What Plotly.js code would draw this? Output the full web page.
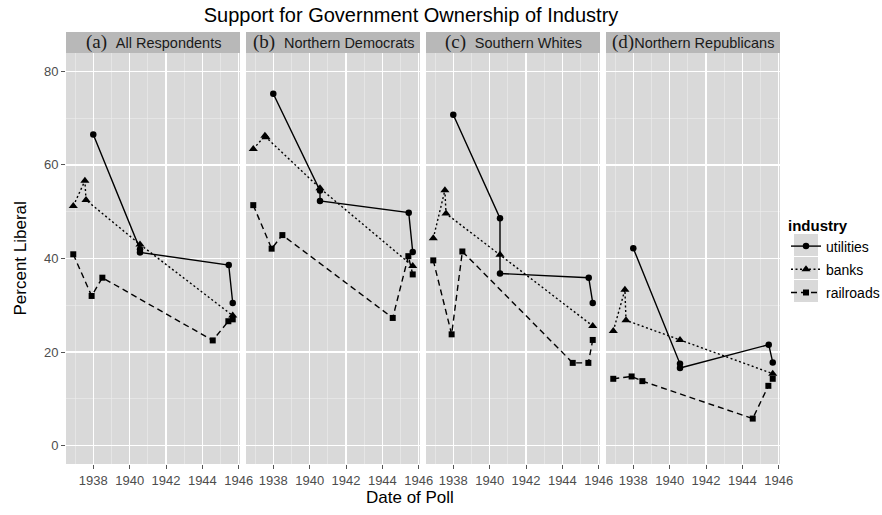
<!DOCTYPE html>
<html>
<head>
<meta charset="utf-8">
<script src="https://cdn.plot.ly/plotly-3.0.1.min.js"></script>
<style>html,body{margin:0;padding:0;background:#fff}</style>
</head>
<body>
<div id="chart" style="width:882px;height:515px"></div>
<script>
// Facet panels (respondent groups)
const panelTags = ['(a)', '(b)', '(c)', '(d)'];
const panelNames = ['All Respondents', 'Northern Democrats', 'Southern Whites', 'Northern Republicans'];

// Poll dates (decimal years) for each question
const utilityDates = [1938.0, 1940.57, 1940.57, 1945.45, 1945.67];
const bankDates = [1936.9, 1937.54, 1937.6, 1940.57, 1945.67];
const railroadDates = [1936.9, 1937.91, 1938.5, 1944.57, 1945.43, 1945.67];

// Percent liberal, one row per panel (a, b, c, d)
const utilities = [
  [66.5, 42.0, 41.3, 38.6, 30.5],
  [75.2, 54.5, 52.3, 49.8, 41.4],
  [70.7, 48.6, 36.8, 35.9, 30.5],
  [42.2, 17.5, 16.6, 21.6, 17.8]
];
const banks = [
  [51.2, 56.6, 52.5, 43.0, 27.8],
  [63.4, 66.2, 65.9, 55.0, 38.4],
  [44.3, 54.6, 49.6, 40.8, 25.6],
  [24.5, 33.3, 26.8, 22.6, 15.4]
];
const railroads = [
  [40.9, 32.0, 35.9, 22.5, 26.6, 27.0],
  [51.4, 42.1, 45.0, 27.3, 40.5, 36.6],
  [39.6, 23.8, 41.5, 17.7, 17.7, 22.6],
  [14.3, 14.8, 13.8, 5.8, 12.8, 14.3]
];

// Tick labels
const xTickVals = [1938, 1940, 1942, 1944, 1946];
const yTickVals = [0, 20, 40, 60, 80];

const FONT = 'Liberation Sans, Arial, Helvetica, sans-serif';
const SERIF = 'Liberation Serif, Times New Roman, serif';

const series = [
  {name: 'utilities', dates: utilityDates, values: utilities, symbol: 'circle', size: 6.5, dash: 'solid'},
  {name: 'banks', dates: bankDates, values: banks, symbol: 'triangle-up', size: 8, dash: '2px,2.5px'},
  {name: 'railroads', dates: railroadDates, values: railroads, symbol: 'square', size: 6, dash: '6px,4px'}
];

// plot area in pixels
const W = 882, H = 515;
const M = {l: 66, r: 100, t: 53, b: 51, autoexpand: false};
const PW = W - M.l - M.r;   // 716
const PH = H - M.t - M.b;   // 411
const panelW = 174, gap = 6;

const traces = [];
for (let p = 0; p < 4; p++) {
  const sfx = p === 0 ? '' : String(p + 1);
  series.forEach(s => {
    traces.push({
      type: 'scatter',
      mode: 'lines+markers',
      x: s.dates,
      y: s.values[p],
      xaxis: 'x' + sfx,
      yaxis: 'y' + sfx,
      name: s.name,
      legendgroup: s.name,
      showlegend: p === 0,
      line: {color: '#000', width: 1.4, dash: s.dash},
      marker: {color: '#000', symbol: s.symbol, size: s.size},
      hoverinfo: 'x+y+name'
    });
  });
}

const layout = {
  width: W, height: H,
  margin: M,
  paper_bgcolor: '#fff',
  plot_bgcolor: '#d9d9d9',
  font: {family: FONT, color: '#000', size: 13},
  title: {
    text: 'Support for Government Ownership of Industry',
    font: {family: FONT, size: 20, color: '#000'},
    xref: 'container', x: 411 / W, xanchor: 'center',
    yref: 'container', y: 1 - 15 / H, yanchor: 'middle'
  },
  showlegend: true,
  legend: {
    x: (786 - M.l) / PW, xanchor: 'left',
    y: (H - M.b - 211) / PH, yanchor: 'top',
    bgcolor: 'rgba(0,0,0,0)',
    title: {text: '<b>industry</b>', font: {family: FONT, size: 15, color: '#000'}},
    font: {family: FONT, size: 14, color: '#000'},
    itemwidth: 30,
    tracegroupgap: 2
  },
  shapes: [],
  annotations: []
};

for (let p = 0; p < 4; p++) {
  const sfx = p === 0 ? '' : String(p + 1);
  const x0 = (p * (panelW + gap)) / PW;
  const x1 = (p * (panelW + gap) + panelW) / PW;
  layout['xaxis' + sfx] = {
    domain: [x0, Math.min(x1, 1)],
    anchor: 'y' + sfx,
    range: [1936.5, 1946.07],
    tickvals: xTickVals,
    ticktext: xTickVals.map(String),
    ticks: 'outside', ticklen: 4, tickwidth: 1, tickcolor: '#555',
    tickfont: {family: FONT, size: 13, color: '#4d4d4d'},
    showgrid: true, gridcolor: '#ffffff', gridwidth: 1.3,
    minor: {tick0: 1937, dtick: 2, showgrid: true, gridcolor: '#ececec', gridwidth: 0.6, ticks: ''},
    zeroline: false, showline: false,
    fixedrange: true
  };
  layout['yaxis' + sfx] = {
    domain: [0, 1],
    anchor: 'x' + sfx,
    range: [-3.9, 83.9],
    tickvals: yTickVals,
    ticktext: yTickVals.map(String),
    showticklabels: p === 0,
    ticks: p === 0 ? 'outside' : '', ticklen: 4, tickwidth: 1, tickcolor: '#555',
    tickfont: {family: FONT, size: 13, color: '#4d4d4d'},
    showgrid: true, gridcolor: '#ffffff', gridwidth: 1.3,
    minor: {tick0: 10, dtick: 20, showgrid: true, gridcolor: '#ececec', gridwidth: 0.6, ticks: ''},
    zeroline: false, showline: false,
    fixedrange: true
  };

  // facet strip
  layout.shapes.push({
    type: 'rect', xref: 'x' + sfx + ' domain', yref: 'paper',
    x0: 0, x1: 1, y0: 1, y1: 1 + 21 / PH,
    fillcolor: '#b8b8b8', line: {width: 0}, layer: 'above'
  });
  const sep = p === 3 ? '' : '&nbsp;';
  layout.annotations.push({
    xref: 'x' + sfx + ' domain', yref: 'paper',
    x: 0.5, y: 1 + 10.5 / PH, xanchor: 'center', yanchor: 'middle',
    showarrow: false,
    text: '<span style="font-family:' + SERIF + ';font-size:19px">' + panelTags[p] + sep + '</span>' + sep + panelNames[p],
    font: {family: FONT, size: 14.5, color: '#1a1a1a'}
  });
}

// legend key backgrounds
[245, 268, 291].forEach(cy => {
  layout.shapes.push({
    type: 'rect', xref: 'paper', yref: 'paper',
    x0: (794 - M.l) / PW, x1: (818 - M.l) / PW,
    y0: (H - M.b - (cy + 11)) / PH, y1: (H - M.b - (cy - 11)) / PH,
    fillcolor: '#d9d9d9', line: {width: 0}, layer: 'above'
  });
});

// axis titles
layout.annotations.push({
  xref: 'paper', yref: 'paper', x: (410 - M.l) / PW, y: (H - M.b - 497) / PH,
  xanchor: 'center', yanchor: 'middle', showarrow: false,
  text: 'Date of Poll', font: {family: FONT, size: 17, color: '#000'}
});
layout.annotations.push({
  xref: 'paper', yref: 'paper', x: (20 - M.l) / PW, y: 0.5,
  xanchor: 'center', yanchor: 'middle', showarrow: false, textangle: -90,
  text: 'Percent Liberal', font: {family: FONT, size: 17, color: '#000'}
});

Plotly.newPlot('chart', traces, layout, {displayModeBar: false, staticPlot: true});
</script>
</body>
</html>
